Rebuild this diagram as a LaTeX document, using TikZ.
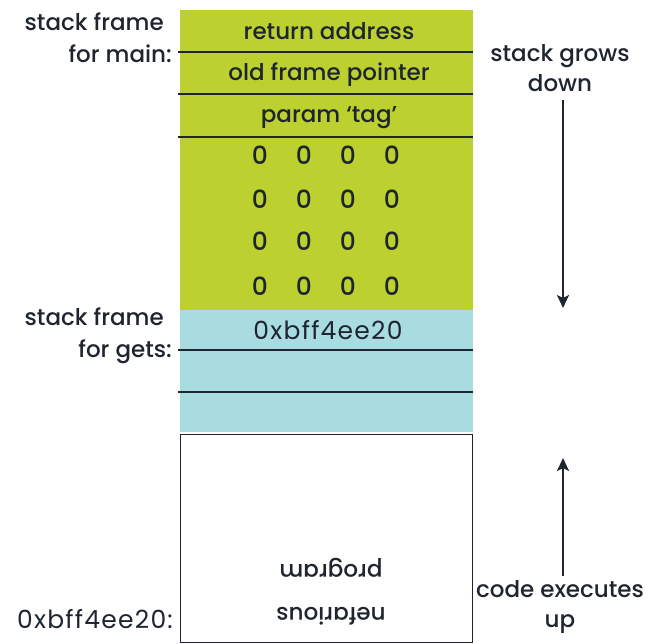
\documentclass[tikz,border=0pt]{standalone}
\usepackage{fontspec}
\setmainfont{Poppins}
\newfontfamily\medfont{Poppins Medium}
\newfontfamily\numfont{Poppins}[LetterSpace=5]
\definecolor{stackgreen}{HTML}{BCD12F}
\definecolor{stackblue}{HTML}{A9DCE0}
\definecolor{ink}{HTML}{1F2530}
\usetikzlibrary{arrows.meta}
\tikzset{
  lbl/.style={inner sep=0pt, text=ink, font=\medfont\fontsize{23}{25}\selectfont},
  num/.style={inner sep=0pt, text=ink, font=\numfont\fontsize{25}{27}\selectfont},
  zero/.style={inner sep=0pt, text=ink, font=\medfont\fontsize{25}{27}\selectfont},
  divider/.style={draw=ink, line width=1.2pt},
  arr/.style={draw=ink, line width=2.4pt, -{Stealth[length=13pt,width=12pt,inset=3pt]}}
}
\begin{document}
\begin{tikzpicture}[x=1pt,y=-1pt]
\useasboundingbox (0,0) rectangle (655,644);
% regions
\fill[stackgreen] (180,10) rectangle (473,310);
\fill[stackblue] (180,310) rectangle (473,432);
\draw[ink, line width=1pt] (180,434) rectangle (472,642);
% dividers
\draw[divider] (178,52) -- (473,52);
\draw[divider] (178,94) -- (473,94);
\draw[divider] (178,137) -- (473,137);
\draw[divider] (178,350) -- (473,350);
\draw[divider] (178,392) -- (473,392);
% cell texts
\node[lbl, anchor=base] (ra) at (329,40) {return address};
\node[lbl, anchor=base] (ofp) at (329,81) {old frame pointer};
\node[lbl, anchor=base] (pt) at (329,123) {param ‘tag’};
\foreach \r/\yy in {1/165,2/208,3/251,4/295}{
  \foreach \c/\xx in {1/260,2/304,3/348,4/392}{
    \node[zero, anchor=base] (z\r\c) at (\xx,\yy) {0};
  }
}
\node[num, anchor=base] (addr) at (328,339) {0xbff4ee20};
\node[lbl, rotate=180, align=center, font=\medfont\fontsize{23}{43}\selectfont] (nef) at (331,592) {nefarious\\program};
% left labels
\node[lbl, anchor=base east] (sfm1) at (164,31) {stack frame};
\node[lbl, anchor=base east] (sfm2) at (172,63) {for main:};
\node[lbl, anchor=base east] (sfg1) at (164,325) {stack frame};
\node[lbl, anchor=base east] (sfg2) at (172,357) {for gets:};
\node[num, anchor=base east] (addrl) at (173,628) {0xbff4ee20:};
% right labels
\node[lbl, anchor=base] (sg1) at (560,62) {stack grows};
\node[lbl, anchor=base] (sg2) at (560,92) {down};
\node[lbl, anchor=base] (ce1) at (560,597) {code executes};
\node[lbl, anchor=base] (ce2) at (560,627) {up};
% arrows
\coordinate (dtop) at (563,100);
\coordinate (dbot) at (563,308);
\coordinate (utop) at (563,458);
\coordinate (ubot) at (563,576);
\draw[arr] (dtop) -- (dbot);
\draw[arr] (ubot) -- (utop);
\end{tikzpicture}
\end{document}
